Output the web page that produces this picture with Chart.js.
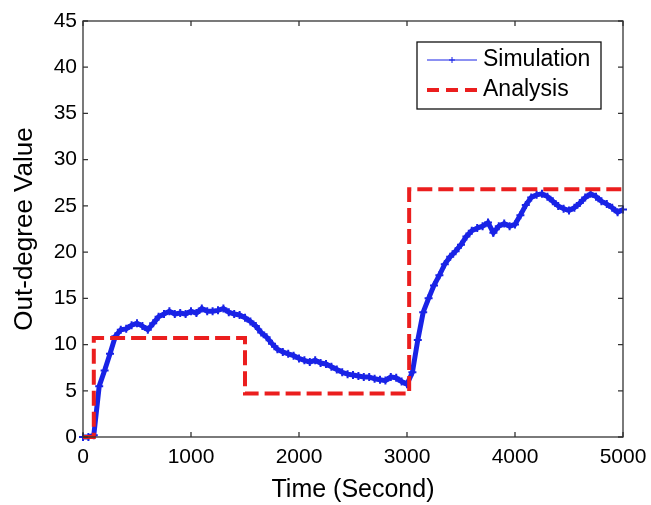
<!DOCTYPE html>
<html>
<head>
<meta charset="utf-8">
<script src="https://cdn.jsdelivr.net/npm/chart.js@4"></script>
<style>
  html, body { margin: 0; padding: 0; background: #fff; }
  #wrap { width: 651px; height: 505px; }
</style>
</head>
<body>
<div id="wrap"><canvas id="grafico"></canvas></div>
<script>
// Simulation (a cada 50 s)
const simTime = [];
for (let t = 0; t <= 5000; t += 50) simTime.push(t);
const simValue = [
  0, 0, 0.2, 5.5, 7.2, 9.0, 10.9, 11.6, 11.7, 12.1,
  12.3, 12.0, 11.6, 12.3, 13.0, 13.3, 13.6, 13.3, 13.4, 13.3,
  13.6, 13.4, 13.9, 13.6, 13.6, 13.7, 13.9, 13.5, 13.3, 13.2,
  12.9, 12.5, 12.0, 11.3, 10.8, 10.1, 9.5, 9.2, 9.0, 8.8,
  8.5, 8.3, 8.1, 8.3, 8.0, 7.9, 7.6, 7.3, 7.0, 6.8,
  6.7, 6.6, 6.5, 6.5, 6.3, 6.2, 6.1, 6.5, 6.4, 6.0,
  5.7, 7.0, 10.5, 13.5, 15.0, 16.4, 17.5, 18.7, 19.5, 20.1,
  20.8, 21.7, 22.3, 22.6, 22.8, 23.2, 22.1, 22.8, 23.1, 22.8,
  23.0, 24.0, 25.1, 25.9, 26.2, 26.3, 26.0, 25.5, 25.0, 24.7,
  24.5, 24.8, 25.3, 25.9, 26.3, 26.0, 25.5, 25.2, 24.8, 24.3,
  24.6
];

// Analysis (degraus)
const anaTime = [0, 100, 100, 1500, 1500, 3020, 3020, 5000];
const anaValue = [0, 0, 10.7, 10.7, 4.7, 4.7, 26.8, 26.8];

const xTicks = [0, 1000, 2000, 3000, 4000, 5000];
const yTicks = [0, 5, 10, 15, 20, 25, 30, 35, 40, 45];

const legendItems = ['Simulation', 'Analysis'];

const FONT = "'Liberation Sans', Arial, sans-serif";
const azul = 'rgb(25, 35, 230)';
const vermelho = 'rgb(235, 30, 30)';

// caixa + ticks para dentro (estilo matlab)
const caixaPlugin = {
  id: 'caixa',
  afterDraw(chart) {
    const ctx = chart.ctx;
    const a = chart.chartArea;
    const sx = chart.scales.x, sy = chart.scales.y;
    ctx.save();
    ctx.strokeStyle = '#333';
    ctx.lineWidth = 1.3;
    ctx.strokeRect(a.left, a.top, a.right - a.left, a.bottom - a.top);
    ctx.beginPath();
    const tl = 5;
    xTicks.forEach(v => {
      const px = sx.getPixelForValue(v);
      ctx.moveTo(px, a.bottom); ctx.lineTo(px, a.bottom - tl);
      ctx.moveTo(px, a.top); ctx.lineTo(px, a.top + tl);
    });
    yTicks.forEach(v => {
      const py = sy.getPixelForValue(v);
      ctx.moveTo(a.left, py); ctx.lineTo(a.left + tl, py);
      ctx.moveTo(a.right, py); ctx.lineTo(a.right - tl, py);
    });
    ctx.stroke();

    // legenda
    const lx = 417, ly = 42, lw = 184, lh = 67;
    ctx.fillStyle = '#fff';
    ctx.fillRect(lx, ly, lw, lh);
    ctx.strokeStyle = '#111';
    ctx.lineWidth = 1.3;
    ctx.strokeRect(lx, ly, lw, lh);

    ctx.font = '23px ' + FONT;
    ctx.fillStyle = '#000';
    ctx.textBaseline = 'middle';
    ctx.textAlign = 'left';

    // Simulation
    let y1 = ly + 18;
    ctx.strokeStyle = azul;
    ctx.lineWidth = 1;
    ctx.beginPath();
    ctx.moveTo(427, y1); ctx.lineTo(477, y1);
    ctx.moveTo(452, y1 - 3); ctx.lineTo(452, y1 + 3);
    ctx.moveTo(449, y1); ctx.lineTo(455, y1);
    ctx.stroke();
    ctx.fillText(legendItems[0], 483, y1);

    // Analysis
    let y2 = ly + 48;
    ctx.strokeStyle = vermelho;
    ctx.lineWidth = 4;
    ctx.setLineDash([12, 7]);
    ctx.beginPath();
    ctx.moveTo(427, y2); ctx.lineTo(477, y2);
    ctx.stroke();
    ctx.setLineDash([]);
    ctx.fillText(legendItems[1], 483, y2);
    ctx.restore();
  }
};

new Chart(document.getElementById('grafico'), {
  type: 'line',
  data: {
    datasets: [
      {
        label: legendItems[0],
        data: simTime.map((t, i) => ({ x: t, y: simValue[i] })),
        borderColor: azul,
        backgroundColor: azul,
        borderWidth: 5,
        pointStyle: 'cross',
        pointRadius: 4,
        pointBorderWidth: 2,
        tension: 0,
        clip: false,
        order: 1
      },
      {
        label: legendItems[1],
        data: anaTime.map((t, i) => ({ x: t, y: anaValue[i] })),
        borderColor: vermelho,
        borderWidth: 4,
        borderDash: [15, 6],
        borderCapStyle: 'butt',
        pointRadius: 0,
        tension: 0,
        clip: false,
        order: 0
      }
    ]
  },
  options: {
    responsive: true,
    maintainAspectRatio: false,
    animation: false,
    events: [],
    layout: { padding: { left: 0, right: 28, top: 21, bottom: 0 } },
    plugins: {
      legend: { display: false },
      tooltip: { enabled: false }
    },
    scales: {
      x: {
        type: 'linear',
        min: 0,
        max: 5000,
        afterBuildTicks: s => { s.ticks = xTicks.map(v => ({ value: v })); },
        afterFit: s => { s.height = 68; s.paddingLeft = 0; s.paddingRight = 0; },
        grid: { display: false, drawTicks: false },
        border: { display: false },
        ticks: {
          color: '#000', padding: 8, maxRotation: 0,
          font: { family: FONT, size: 21 },
          callback: v => String(v)
        },
        title: {
          display: true,
          text: 'Time (Second)',
          color: '#000',
          font: { family: FONT, size: 25 },
          padding: { top: 0, bottom: 0 }
        }
      },
      y: {
        type: 'linear',
        min: 0,
        max: 45,
        afterBuildTicks: s => { s.ticks = yTicks.map(v => ({ value: v })); },
        afterFit: s => { s.width = 83; s.paddingTop = 0; s.paddingBottom = 0; },
        grid: { display: false, drawTicks: false },
        border: { display: false },
        ticks: {
          color: '#000', padding: 6,
          font: { family: FONT, size: 21 },
          callback: v => String(v)
        },
        title: {
          display: true,
          text: 'Out-degree Value',
          color: '#000',
          font: { family: FONT, size: 26 },
          padding: { top: 9, bottom: 0 }
        }
      }
    }
  },
  plugins: [caixaPlugin]
});
</script>
</body>
</html>
